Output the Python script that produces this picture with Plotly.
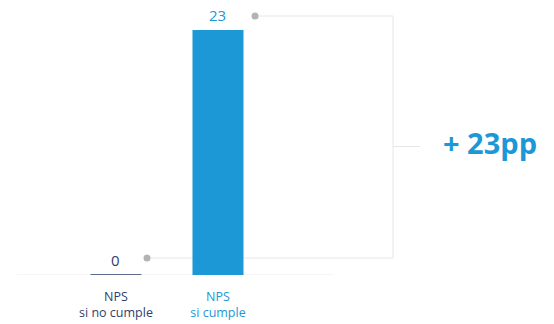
import plotly.graph_objects as go

categories = ["NPS<br>si no cumple", "NPS<br>si cumple"]
values = [0, 23]
value_labels = ["0", "23"]
diff_label = "+ 23pp"

BLUE = "#1b98d5"
NAVY = "#2e3f6e"
GRAY_LINE = "#e6e6e6"
DOT = "#b3b3b3"
FONT = "'Open Sans', Lato, sans-serif"

W, H = 554, 324
MT, MB = 10, 49
plot_h = H - MT - MB
px_per_unit = 245 / 23.0
y_top = plot_h / px_per_unit
x_range = [-1.137, 4.294]

x_idx = list(range(len(categories)))
colors = ["rgba(0,0,0,0)", BLUE]
txt_colors = [NAVY, BLUE]

fig = go.Figure()
fig.add_trace(go.Bar(x=x_idx, y=values, width=0.5, marker=dict(color=colors, line=dict(width=0)),
                     hoverinfo="skip"))

shapes = []
annotations = []
# baseline
shapes.append(dict(type="line", xref="x", yref="y", x0=-0.97, x1=2.13, y0=0, y1=0,
                   line=dict(color="#ededed", width=1), layer="below"))
# zero-value bar marker line
for i, v in zip(x_idx, values):
    if v == 0:
        shapes.append(dict(type="line", xref="x", yref="y", x0=i - 0.25, x1=i + 0.25, y0=v, y1=v,
                           line=dict(color=NAVY, width=1.5)))
    annotations.append(dict(x=i, y=v, xref="x", yref="y", text=value_labels[i], showarrow=False,
                            yanchor="bottom", yshift=3, font=dict(family=FONT, size=15, color=txt_colors[i])))

# connector bracket
offs = [17, 14]
dot_x = [0.304, 1.363]
bx = 2.716
for i, v in enumerate(values):
    yd = v + offs[i] / px_per_unit
    shapes.append(dict(type="line", xref="x", yref="y", x0=dot_x[i], x1=bx, y0=yd, y1=yd,
                       line=dict(color=GRAY_LINE, width=1), layer="below"))
    shapes.append(dict(type="circle", xref="x", yref="y", xsizemode="pixel", ysizemode="pixel",
                       xanchor=dot_x[i], yanchor=yd, x0=-3.5, x1=3.5, y0=-3.5, y1=3.5,
                       fillcolor=DOT, line=dict(width=0)))
y_lo = values[0] + offs[0] / px_per_unit
y_hi = values[1] + offs[1] / px_per_unit
shapes.append(dict(type="line", xref="x", yref="y", x0=bx, x1=bx, y0=y_lo, y1=y_hi,
                   line=dict(color=GRAY_LINE, width=1), layer="below"))
y_mid = (values[0] + values[1]) / 2 + 6 / px_per_unit
shapes.append(dict(type="line", xref="x", yref="y", x0=bx, x1=2.98, y0=y_mid, y1=y_mid,
                   line=dict(color=GRAY_LINE, width=1), layer="below"))
annotations.append(dict(x=3.667, y=y_mid, xref="x", yref="y", text="<b>" + diff_label + "</b>",
                        showarrow=False, yshift=4, font=dict(family=FONT, size=29, color=BLUE)))

ticktext = [f"<span style='color:{txt_colors[i]}'>{c}</span>" for i, c in enumerate(categories)]

fig.update_layout(
    width=W, height=H, margin=dict(l=0, r=0, t=MT, b=MB),
    paper_bgcolor="white", plot_bgcolor="white", showlegend=False,
    shapes=shapes, annotations=annotations,
    xaxis=dict(range=x_range, tickvals=x_idx, ticktext=ticktext, showgrid=False, zeroline=False,
               showline=False, ticks="", ticklabelstandoff=12, automargin=False,
               tickfont=dict(family=FONT, size=12.5, color=NAVY)),
    yaxis=dict(range=[0, y_top], visible=False),
    font=dict(family=FONT),
)
fig.write_html("out.html", config={"displayModeBar": False},
               post_script="document.body.style.margin='0';")
